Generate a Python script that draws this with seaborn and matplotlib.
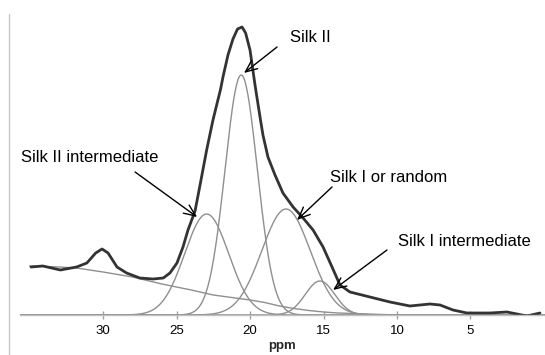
import numpy as np
import pandas as pd
import matplotlib
matplotlib.use("Agg")
import matplotlib.pyplot as plt
from matplotlib.lines import Line2D
import seaborn as sns

spec_ppm = [34.9, 34.1, 32.9, 31.8, 31.1, 30.5, 30.07, 29.66, 29.05, 28.4, 27.5,
            26.6, 25.9, 25.45, 24.97, 24.56, 24.22, 23.74, 23.4, 22.95, 22.52, 22.0,
            21.84, 21.5, 21.16, 20.85, 20.54, 20.3, 20.0, 19.66, 19.32, 19.12, 18.78,
            18.3, 17.76, 17.07, 16.39, 15.71, 15.03, 14.42, 13.88, 13.2, 11.84,
            10.48, 9.12, 7.76, 7.07, 6.19, 5.24, 3.67, 2.52, 1.16, 0.27]
spec_int = [48, 49, 45, 48, 52, 62, 66, 62, 48, 42, 37,
            36, 37, 42, 52, 68, 85, 104, 130, 165, 195, 226,
            238, 260, 276, 286, 288, 282, 265, 230, 198, 180, 158,
            140, 122, 108, 97, 85, 68, 48, 30, 23, 18,
            13, 9, 11, 10, 5, 2, 2, 3, -1, 2]

# ---- baseline / background curve ----
bg_ppm = [35.0, 33.0, 31.8, 30.0, 28.0, 26.0, 25.0, 24.0, 22.5, 21.0, 20.0,
          19.0, 18.0, 17.0, 16.0, 15.0, 14.0, 13.0, 12.0, 11.0, 10.0]
bg_int = [49, 48, 47, 43, 38, 31, 28, 25, 20, 17, 15,
          12.5, 9, 6.5, 4.5, 3, 2, 1.5, 1, 0.5, 0]

# ---- deconvoluted components (read peak position, height, width) ----
comp_names = ["Silk II intermediate", "Silk II", "Silk I or random", "Silk I intermediate"]
comp_center = [22.95, 20.6, 17.55, 15.24]
comp_height = [101, 240, 106, 34]
comp_sigma = [1.5, 1.1, 1.65, 1.0]

# annotation positions (ppm, intensity): label, arrow tail, arrow tip
label_pos = [(35.58, 157), (17.28, 277), (14.56, 138), (9.93, 73)]
arrow_tail = [(27.82, 143), (18.16, 268), (14.42, 128), (10.68, 65)]
arrow_tip = [(23.6, 98), (20.41, 242), (16.8, 95), (14.35, 25)]

xticks = [30, 25, 20, 15, 10, 5]

sns.set_theme(style="white")
plt.rcParams['font.family'] = ['Liberation Sans', 'DejaVu Sans']

fig = plt.figure(figsize=(5.45, 3.55), dpi=100)
ax = fig.add_axes([20 / 545, 1 - 315 / 355, 1 - 20 / 545, 305 / 355])

grid = np.linspace(36, -0.5, 800)
for c, h, s in zip(comp_center, comp_height, comp_sigma):
    df = pd.DataFrame({"ppm": grid, "I": h * np.exp(-(grid - c) ** 2 / (2 * s ** 2))})
    sns.lineplot(data=df, x="ppm", y="I", ax=ax, color="#8f8f8f", lw=1.0,
                 sort=False, estimator=None)

sns.lineplot(data=pd.DataFrame({"ppm": bg_ppm, "I": bg_int}), x="ppm", y="I",
             ax=ax, color="#8f8f8f", lw=1.0, sort=False, estimator=None)

sns.lineplot(data=pd.DataFrame({"ppm": spec_ppm, "I": spec_int}), x="ppm", y="I",
             ax=ax, color="#333333", lw=2.0, sort=False, estimator=None)

for name, lp, tl, tp in zip(comp_names, label_pos, arrow_tail, arrow_tip):
    ax.text(lp[0], lp[1], name, ha="left", va="center", fontsize=12, color="black")
    ax.annotate("", xy=tp, xytext=tl,
                arrowprops=dict(arrowstyle="->,head_length=0.7,head_width=0.3",
                                color="black", lw=1.0, mutation_scale=12,
                                shrinkA=0, shrinkB=0))

ax.set_xlim(35.65, -0.07)
ax.set_ylim(0, 305)
ax.set_xticks(xticks)
ax.set_xticklabels([str(t) for t in xticks])
ax.set_yticks([])
ax.set_ylabel("")
ax.set_xlabel("ppm", fontsize=9.5, fontweight="bold", labelpad=2)
for side in ["top", "right", "left"]:
    ax.spines[side].set_visible(False)
ax.spines["bottom"].set_color("#c0c0c0")
ax.spines["bottom"].set_linewidth(1.0)
ax.tick_params(axis="x", direction="inout", length=6, width=1, color="#a0a0a0",
               labelsize=9.5, pad=4, labelcolor="black", bottom=True)
ax.patch.set_alpha(0)

fig.add_artist(Line2D([8.5 / 545, 8.5 / 545], [0, 1 - 14 / 355],
                      transform=fig.transFigure, color="#c8c8c8", lw=1.0))

fig.savefig("out.png", dpi=100)
